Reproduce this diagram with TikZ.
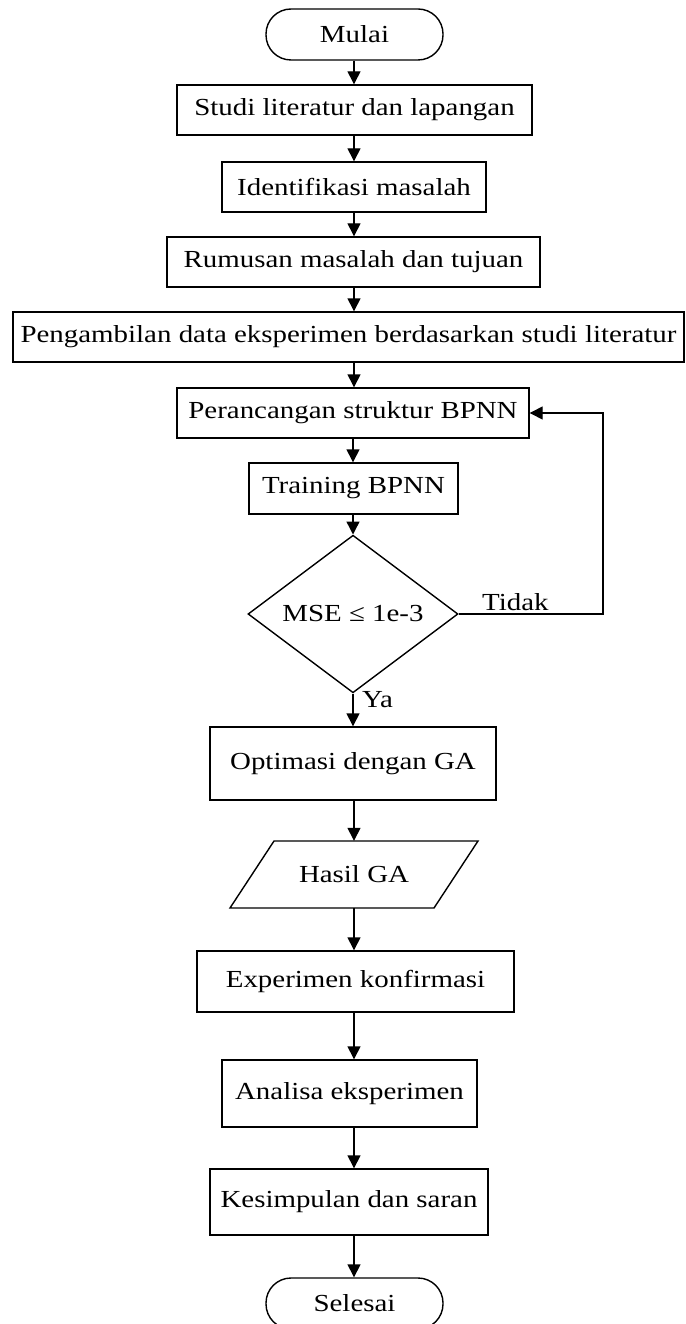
\documentclass[tikz,border=0pt]{standalone}
\usepackage{fontspec}
\setmainfont{Liberation Serif}[FakeStretch=1.18]
\usetikzlibrary{arrows.meta,shapes.geometric}
\tikzset{
  txt/.style={font=\fontsize{24.5}{28}\selectfont},
  box/.style={draw, line width=1.4pt, minimum height=50pt, inner sep=0pt, txt},
  term/.style={box, rounded corners=25pt},
  arr/.style={line width=1.4pt, -{Triangle[width=13pt,length=13pt]}},
  lbl/.style={txt, inner sep=0pt},
}
\begin{document}
\begin{tikzpicture}[x=1pt,y=-1pt]
\useasboundingbox (0,0) rectangle (685,1324);
\coordinate (ax) at (354,0);
\coordinate (fb) at (603,0);

\node[term, minimum width=177pt, minimum height=51pt] (mulai) at (354.5,34.5) {Mulai};
\node[box, minimum width=355pt] (studi) at (354.5,110) {Studi literatur dan lapangan};
\node[box, minimum width=264pt] (ident) at (354,187) {Identifikasi masalah};
\node[box, minimum width=373pt] (rumus) at (353.5,262) {Rumusan masalah dan tujuan};
\node[box, minimum width=671pt] (ambil) at (348.5,337) {Pengambilan data eksperimen berdasarkan studi literatur};
\node[box, minimum width=352pt] (rancang) at (353,413) {Perancangan struktur BPNN};
\node[box, minimum width=209pt, minimum height=51pt] (train) at (353.5,488.5) {Training BPNN};
\node[draw, diamond, line width=1.4pt, minimum width=210pt, minimum height=121pt, inner sep=0pt, txt] (mse) at (353,614) {MSE ≤ 1e-3};
\node[box, minimum width=286pt, minimum height=73pt] (optim) at (353,763.5) {Optimasi dengan GA};
\draw[line width=1.4pt] (274,841) -- (478,841) -- (434,908) -- (230,908) -- cycle;
\node[txt, minimum height=67pt, minimum width=150pt, inner sep=0pt] (hasil) at (354,874.5) {Hasil GA};
\node[box, minimum width=317pt, minimum height=61pt] (exper) at (355.5,981.5) {Experimen konfirmasi};
\node[box, minimum width=255pt, minimum height=67pt] (anal) at (349.5,1093.5) {Analisa eksperimen};
\node[box, minimum width=278pt, minimum height=66pt] (kesim) at (349,1202) {Kesimpulan dan saran};
\node[term, minimum width=177pt, minimum height=51pt] (seles) at (354.5,1303.5) {Selesai};

\draw[arr] (mulai.south -| ax) -- (studi.north -| ax);
\draw[arr] (studi.south -| ax) -- (ident.north -| ax);
\draw[arr] (ident.south -| ax) -- (rumus.north -| ax);
\draw[arr] (rumus.south -| ax) -- (ambil.north -| ax);
\draw[arr] (ambil.south -| ax) -- (rancang.north -| ax);
\draw[arr] (rancang.south -| mse.north) -- (train.north -| mse.north);
\draw[arr] (train.south -| mse.north) -- (mse.north);
\draw[arr] (mse.south) -- (optim.north -| mse.south);
\draw[arr] (optim.south -| ax) -- (hasil.north -| ax);
\draw[arr] (hasil.south -| ax) -- (exper.north -| ax);
\draw[arr] (exper.south -| ax) -- (anal.north -| ax);
\draw[arr] (anal.south -| ax) -- (kesim.north -| ax);
\draw[arr] (kesim.south -| ax) -- (seles.north -| ax);
\draw[arr] (mse.east) -- (mse.east -| fb) -- (rancang.east -| fb) -- (rancang.east);

\node[lbl, anchor=base west] (tidak) at (482,610) {Tidak};
\node[lbl, anchor=base west] (ya) at (362,707) {Ya};
\end{tikzpicture}
\end{document}
